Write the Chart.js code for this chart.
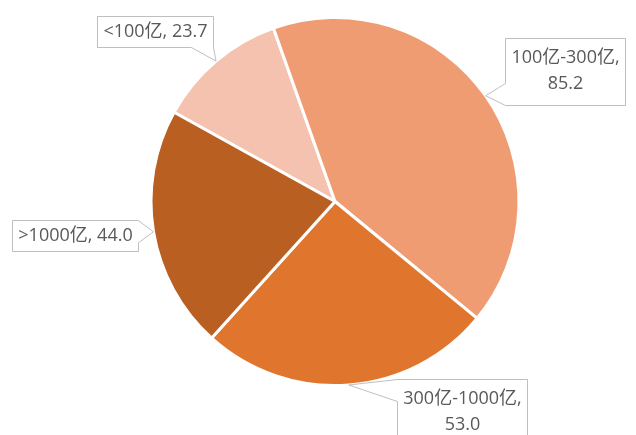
<!DOCTYPE html>
<html>
<head>
<meta charset="utf-8">
<script src="https://cdn.jsdelivr.net/npm/chart.js@4/dist/chart.umd.min.js"></script>
<style>
  html, body { margin: 0; padding: 0; background: #fff; }
  #wrap { width: 636px; height: 435px; }
</style>
</head>
<body>
<div id="wrap"><canvas id="pieChart"></canvas></div>
<script>
var categories = ['<100亿', '100亿-300亿', '300亿-1000亿', '>1000亿'];
var values = [23.7, 85.2, 53.0, 44.0];
var colors = ['#F5C2AF', '#F09C72', '#E0762E', '#B95F22'];

// where each callout box sits, relative to the point on the slice edge
var calloutOffsets = [[-61, -30], [79, -24], [113, 28], [-79, 4]];

var labelFont = '18px "Open Sans", "Noto Sans CJK SC", sans-serif';

var calloutPlugin = {
    id: 'callouts',
    afterDatasetsDraw: function(chart) {
        var ctx = chart.ctx;
        var arcs = chart.getDatasetMeta(0).data;
        ctx.save();
        ctx.font = labelFont;
        arcs.forEach(function(arc, i) {
            var mid = (arc.startAngle + arc.endAngle) / 2;
            var tip = { x: arc.x + Math.cos(mid) * arc.outerRadius, y: arc.y + Math.sin(mid) * arc.outerRadius };

            var full = categories[i] + ', ' + values[i].toFixed(1);
            var lines = ctx.measureText(full).width > 130 ? [categories[i] + ',', values[i].toFixed(1)] : [full];
            var tw = Math.max.apply(null, lines.map(function(l) { return ctx.measureText(l).width; }));
            var w = Math.round(tw + 12);
            var h = lines.length == 1 ? 31 : 67;
            var cx = tip.x + calloutOffsets[i][0], cy = tip.y + calloutOffsets[i][1];
            var l = Math.round(cx - w / 2) + 0.5, t = Math.round(cy - h / 2) + 0.5, r = l + w, b = t + h;

            // pick edge nearest the tip
            var dl = l - tip.x, dr = tip.x - r, dt = t - tip.y, db = tip.y - b;
            var edge = 'left', m = dl;
            if (dr > m) { edge = 'right'; m = dr; }
            if (dt > m) { edge = 'top'; m = dt; }
            if (db > m) { edge = 'bottom'; m = db; }
            var hw = 11;
            function span(p, lo, hi) {
                var a = Math.max(lo, Math.min(p - hw, hi - 2 * hw));
                return [a, a + 2 * hw];
            }

            ctx.beginPath();
            ctx.moveTo(l, t);
            if (edge == 'top') { var s = span(tip.x, l, r); ctx.lineTo(s[0], t); ctx.lineTo(tip.x, tip.y); ctx.lineTo(s[1], t); }
            ctx.lineTo(r, t);
            if (edge == 'right') { var s = span(tip.y, t, b); ctx.lineTo(r, s[0]); ctx.lineTo(tip.x, tip.y); ctx.lineTo(r, s[1]); }
            ctx.lineTo(r, b);
            if (edge == 'bottom') { var s = span(tip.x, l, r); ctx.lineTo(s[1], b); ctx.lineTo(tip.x, tip.y); ctx.lineTo(s[0], b); }
            ctx.lineTo(l, b);
            if (edge == 'left') { var s = span(tip.y, t, b); ctx.lineTo(l, s[1]); ctx.lineTo(tip.x, tip.y); ctx.lineTo(l, s[0]); }
            ctx.closePath();
            ctx.fillStyle = '#ffffff';
            ctx.fill();
            ctx.strokeStyle = '#BFBFBF';
            ctx.lineWidth = 1;
            ctx.stroke();

            ctx.fillStyle = '#595959';
            ctx.textAlign = 'center';
            ctx.textBaseline = 'middle';
            if (lines.length == 1) {
                ctx.fillText(lines[0], (l + r) / 2, (t + b) / 2);
            } else {
                ctx.fillText(lines[0], (l + r) / 2, t + 19);
                ctx.fillText(lines[1], (l + r) / 2, t + 45);
            }
        });
        ctx.restore();
    }
};

var ctxPie = document.getElementById('pieChart').getContext('2d');
var pieChart = new Chart(ctxPie, {
    type: 'pie',
    data: {
        labels: categories,
        datasets: [{
            data: values,
            backgroundColor: colors,
            borderColor: '#ffffff',
            borderWidth: 3,
            hoverOffset: 0
        }]
    },
    options: {
        responsive: true,
        maintainAspectRatio: false,
        animation: false,
        rotation: -61,
        layout: { padding: { left: 34, right: 0, top: 16, bottom: 48 } },
        plugins: {
            legend: { display: false },
            tooltip: { enabled: false }
        }
    },
    plugins: [calloutPlugin]
});
</script>
</body>
</html>
